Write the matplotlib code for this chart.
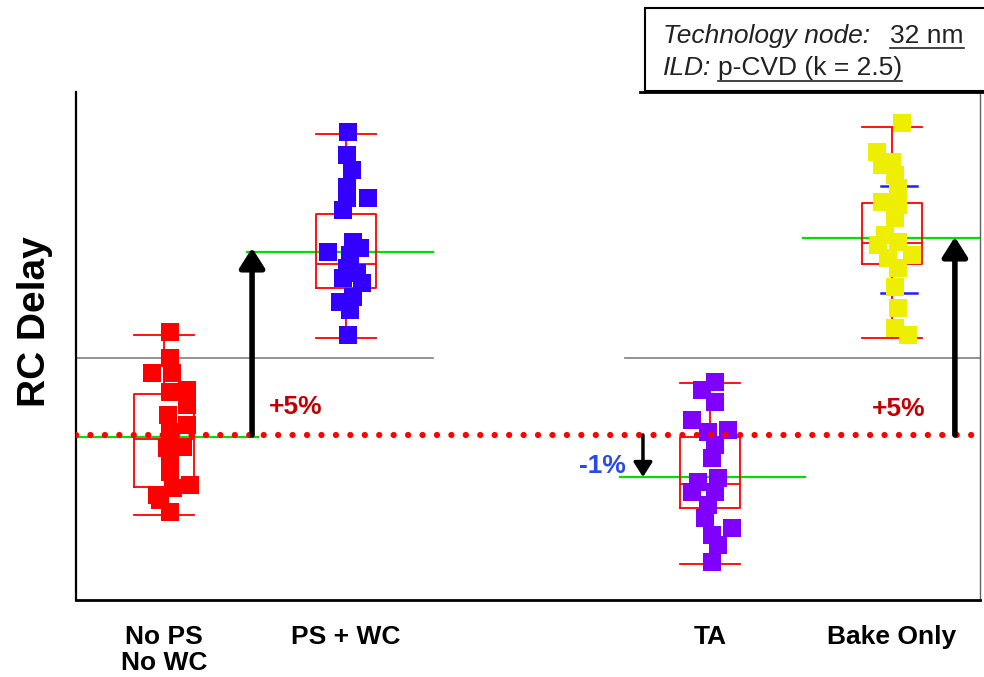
import matplotlib
matplotlib.use('Agg')
import matplotlib.pyplot as plt
from matplotlib.patches import Rectangle
from matplotlib.lines import Line2D

plt.rcParams['font.family'] = ['Liberation Sans', 'DejaVu Sans']

# ---------------- data ----------------
categories = ['No PS\nNo WC', 'PS + WC', 'TA', 'Bake Only']
cat_pos = [1, 2, 4, 5]
point_colors = ['#ff0000', '#3300ff', '#8000ff', '#eeee00']

# RC delay change (%) relative to the No PS / No WC reference level
nops_vals = [2.81, 2.10, 1.69, 1.69, 1.23, 1.17, 0.82, 0.55, 0.27, 0.08,
             -0.36, -0.33, -0.74, -1.01, -1.37, -1.45, -1.64, -1.78, -2.10]
nops_jit = [0.033, 0.033, -0.066, 0.044, 0.126, 0.033, 0.126, 0.022, 0.126, 0.033,
            0.016, 0.104, 0.033, 0.033, 0.143, 0.049, -0.038, -0.022, 0.033]

pswc_vals = [8.28, 7.65, 7.24, 6.78, 6.48, 6.48, 6.15, 5.27, 5.00, 4.92,
             5.11, 4.56, 4.43, 4.15, 4.29, 3.63, 3.77, 3.42, 2.73]
pswc_jit = [0.011, 0.005, 0.033, 0.005, 0.121, 0.005, -0.016, 0.038, -0.099, 0.022,
            0.077, 0.005, 0.060, 0.088, -0.016, -0.033, 0.038, 0.022, 0.011]

ta_vals = [1.45, 1.23, 0.90, 0.41, 0.14, 0.08, -0.27, -0.63, -1.28, -1.17,
           -1.56, -1.56, -1.91, -2.27, -2.54, -2.73, -3.01, -3.47]
ta_jit = [0.027, -0.044, 0.027, -0.099, 0.099, -0.011, 0.027, 0.011, -0.066, 0.044,
          -0.099, 0.027, -0.011, -0.027, 0.121, 0.011, 0.044, 0.011]

bake_vals = [8.52, 7.73, 7.46, 7.38, 7.10, 6.75, 6.37, 6.28, 5.93, 5.46,
             5.19, 5.27, 4.92, 4.84, 4.56, 4.04, 3.47, 2.92, 2.73]
bake_jit = [0.055, -0.082, 0.000, -0.055, 0.016, 0.033, -0.055, 0.033, 0.016, -0.038,
            -0.077, 0.033, 0.110, -0.022, 0.033, 0.016, 0.033, 0.016, 0.088]

# box-plot statistics (%)
box_q1 = [-1.42, 4.02, -1.99, 4.67]
box_q3 = [1.12, 6.04, -0.05, 6.34]
box_med = [-0.10, 4.67, -1.34, 5.25]
box_lo = [-2.19, 2.65, -3.52, 2.65]
box_hi = [2.73, 8.22, 1.42, 8.42]

# mean levels (green) per group and their horizontal spans
mean_levels = [-0.07, 5.00, -1.15, 5.38]
mean_spans = [(0.5165, 1.516), (1.456, 2.478), (3.505, 4.522), (4.511, 5.50)]

# grey reference level
grey_level = 2.10
grey_spans = [(0.5165, 2.478), (3.533, 5.484)]

# bake-only sigma markers
bake_sigma = [6.80, 3.88]

# annotations
shift_labels = ['+5%', '-1%', '+5%']
arrow_x = [1.484, 3.632, 5.346]
arrow_tip = [5.11, -1.15, 5.41]

# ---------------- figure ----------------
fig = plt.figure(figsize=(9.84, 6.77), dpi=100)
W, H = 984, 677
ax = fig.add_axes([76 / W, (H - 600) / H, (980 - 76) / W, (600 - 92) / H])
ax.set_xlim(0.5165, 5.484)
ax.set_ylim(-4.51, 9.37)

# grey reference lines
for x0, x1 in grey_spans:
    ax.plot([x0, x1], [grey_level, grey_level], color='#808080', lw=1.2, zorder=1)

# green mean lines
for lvl, (x0, x1) in zip(mean_levels, mean_spans):
    ax.plot([x0, x1], [lvl, lvl], color='#00dd00', lw=1.6, zorder=2, clip_on=True)

# box plots
stats = []
for i in range(4):
    stats.append(dict(med=box_med[i], q1=box_q1[i], q3=box_q3[i],
                      whislo=box_lo[i], whishi=box_hi[i], fliers=[]))
lp = dict(color='#ff0000', lw=1.3)
ax.bxp(stats, positions=cat_pos, widths=0.33, capwidths=0.33, showfliers=False,
       boxprops=lp, whiskerprops=lp, capprops=lp, medianprops=lp,
       manage_ticks=False, zorder=2)

# bake sigma marks
for s in bake_sigma:
    ax.plot([4.94, 5.137], [s, s], color='#2020ff', lw=1.8, zorder=2.5)

# points
groups = [(nops_vals, nops_jit), (pswc_vals, pswc_jit), (ta_vals, ta_jit), (bake_vals, bake_jit)]
for (vals, jit), pos, c in zip(groups, cat_pos, point_colors):
    xs = [pos + j for j in jit]
    ax.plot(xs, vals, 's', ms=13.5, color=c, mec=c, mew=0, zorder=3, linestyle='none')

# red dotted reference line
ax.axhline(0, color='#ff0000', lw=4.5, linestyle=(0, (0.01, 2.3)),
           dash_capstyle='round', zorder=4)

# arrows
big = dict(arrowstyle='-|>,head_length=0.6,head_width=0.38', color='black', lw=4,
           mutation_scale=20, shrinkA=0, shrinkB=0)
ax.annotate('', xy=(arrow_x[0], arrow_tip[0]), xytext=(arrow_x[0], 0),
            arrowprops=big, zorder=5)
ax.annotate('', xy=(arrow_x[2], arrow_tip[2]), xytext=(arrow_x[2], 0),
            arrowprops=big, zorder=5)
ax.annotate('', xy=(arrow_x[1], arrow_tip[1]), xytext=(arrow_x[1], 0),
            arrowprops=dict(arrowstyle='-|>,head_length=0.55,head_width=0.35',
                            color='black', lw=2.5, mutation_scale=16,
                            shrinkA=0, shrinkB=0), zorder=5)

ax.text(1.725, 0.77, shift_labels[0], color='#c00000', fontsize=19, fontweight='bold',
        ha='center', va='center', zorder=6)
ax.text(5.035, 0.70, shift_labels[2], color='#c00000', fontsize=19, fontweight='bold',
        ha='center', va='center', zorder=6)
ax.text(3.41, -0.85, shift_labels[1], color='#2a4ae8', fontsize=19, fontweight='bold',
        ha='center', va='center', zorder=6)

# axes styling
ax.set_yticks([])
ax.set_xticks(cat_pos)
ax.set_xticklabels(categories)
ax.tick_params(axis='x', length=0, pad=18, labelsize=19)
for lbl in ax.get_xticklabels():
    lbl.set_fontweight('bold')
    lbl.set_linespacing(1.12)
ax.spines['top'].set_visible(False)
ax.spines['right'].set_color('#606060')
ax.spines['right'].set_linewidth(1.0)
ax.spines['left'].set_linewidth(1.6)
ax.spines['bottom'].set_linewidth(2.0)

# y label
fig.text(35 / W, 1 - 322 / H, 'RC Delay', rotation=90, ha='center', va='center',
         fontsize=28, fontweight='bold')

# header box
def fx(px):
    return px / W

def fy(py):
    return 1 - py / H

fig.add_artist(Rectangle((fx(645), fy(91)), 1.01 - fx(645), fy(8) - fy(91),
                         transform=fig.transFigure, fill=False, lw=1.5,
                         edgecolor='black', clip_on=False))
fig.add_artist(Line2D([fx(640), 1.0], [fy(92), fy(92)], transform=fig.transFigure,
                      color='black', lw=2.0))

tcol = '#222222'
t1 = fig.text(fx(663), fy(43), 'Technology node:', style='italic', fontsize=19,
              color=tcol, va='baseline')
t2 = fig.text(fx(890), fy(43), '32 nm', fontsize=19, color=tcol, va='baseline')
t3 = fig.text(fx(663), fy(75), 'ILD:', style='italic', fontsize=19, color=tcol,
              va='baseline')
t4 = fig.text(fx(718), fy(75), 'p-CVD (k = 2.5)', fontsize=19, color=tcol,
              va='baseline')
fig.canvas.draw()
r = fig.canvas.get_renderer()
for t, uy in ((t2, 48), (t4, 81)):
    bb = t.get_window_extent(r)
    fig.add_artist(Line2D([bb.x0 / W, bb.x1 / W], [fy(uy), fy(uy)],
                          transform=fig.transFigure, color=tcol, lw=1.2))

fig.savefig('out.png', dpi=100)
